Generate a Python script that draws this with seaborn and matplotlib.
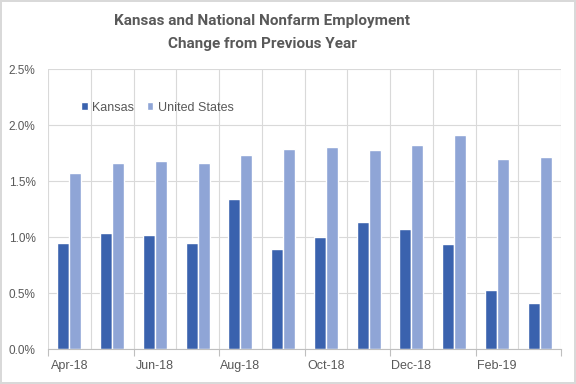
import matplotlib
matplotlib.use("Agg")
import matplotlib.pyplot as plt
import seaborn as sns
import pandas as pd
from matplotlib.ticker import PercentFormatter, FixedLocator
from matplotlib.patches import Patch

months = ["Apr-18", "May-18", "Jun-18", "Jul-18", "Aug-18", "Sep-18",
          "Oct-18", "Nov-18", "Dec-18", "Jan-19", "Feb-19", "Mar-19"]
kansas = [0.95, 1.04, 1.02, 0.95, 1.34, 0.89, 1.00, 1.13, 1.07, 0.94, 0.53, 0.41]
united_states = [1.57, 1.66, 1.68, 1.66, 1.73, 1.79, 1.80, 1.78, 1.82, 1.91, 1.70, 1.71]
series = ["Kansas", "United States"]
colors = ["#3A62AE", "#8FA5D6"]

df = pd.DataFrame({
    "month": months * 2,
    "value": kansas + united_states,
    "series": [series[0]] * len(months) + [series[1]] * len(months),
})

sns.set_theme(style="white")
plt.rcParams["font.family"] = ["Liberation Sans", "DejaVu Sans"]
title_font = ["Roboto", "DejaVu Sans"]

fig = plt.figure(figsize=(5.76, 3.84), dpi=100)
fig.patch.set_edgecolor("#D9D9D9")
fig.patch.set_linewidth(1.5)
ax = fig.add_axes([48/576, 1-349/384, (561-48)/576, (349-69)/384])

sns.barplot(data=df, x="month", y="value", hue="series", order=months,
            hue_order=series, palette=colors, width=0.56, saturation=1,
            ax=ax, legend=False)

ax.set_xlim(-0.5, len(months) - 0.5)
ax.set_ylim(0, 2.5)
ax.set_yticks([0, 0.5, 1.0, 1.5, 2.0, 2.5])
ax.yaxis.set_major_formatter(PercentFormatter(decimals=1))
ax.set_xlabel("")
ax.set_ylabel("")

# labels every other month
ax.set_xticks(range(0, len(months), 2))
ax.set_xticklabels(months[::2])
ax.xaxis.set_minor_locator(FixedLocator([i - 0.5 for i in range(len(months) + 1)]))
ax.tick_params(axis="x", which="major", length=0, pad=8, labelsize=9, labelcolor="#595959")
ax.tick_params(axis="x", which="minor", length=0)
ax.tick_params(axis="y", length=0, pad=9, labelsize=8.5, labelcolor="#595959")
ax.grid(False)
ax.grid(True, axis="x", which="minor", color="#D9D9D9", linewidth=0.8)
ax.grid(True, axis="y", which="major", color="#D9D9D9", linewidth=0.8)
ax.set_axisbelow(True)

# tick marks every second boundary
sec = ax.secondary_xaxis("bottom")
sec.set_xticks([i - 0.5 for i in range(0, len(months) + 1, 2)])
sec.set_xticklabels([])
sec.tick_params(length=5, color="#BFBFBF", width=0.8)
sec.spines["bottom"].set_visible(False)

for s in ["top", "right", "left"]:
    ax.spines[s].set_visible(False)
ax.spines["bottom"].set_color("#BFBFBF")
ax.spines["bottom"].set_linewidth(0.8)

handles = [Patch(facecolor=c, label=s) for c, s in zip(colors, series)]
ax.legend(handles=handles, loc="center left", bbox_to_anchor=(0.064, 0.862),
          ncol=2, frameon=False, handlelength=0.55, handleheight=0.55,
          handletextpad=0.35, columnspacing=1.0, fontsize=9, labelcolor="#595959",
          borderaxespad=0, borderpad=0)

fig.text(262/576, 1-21/384, "Kansas and National Nonfarm Employment",
         ha="center", va="center", fontsize=11, fontweight="bold", color="#595959",
         family=title_font)
fig.text(262/576, 1-44/384, "Change from Previous Year",
         ha="center", va="center", fontsize=11, fontweight="bold", color="#595959",
         family=title_font)

fig.savefig("out.png", dpi=100, edgecolor=fig.get_edgecolor())
